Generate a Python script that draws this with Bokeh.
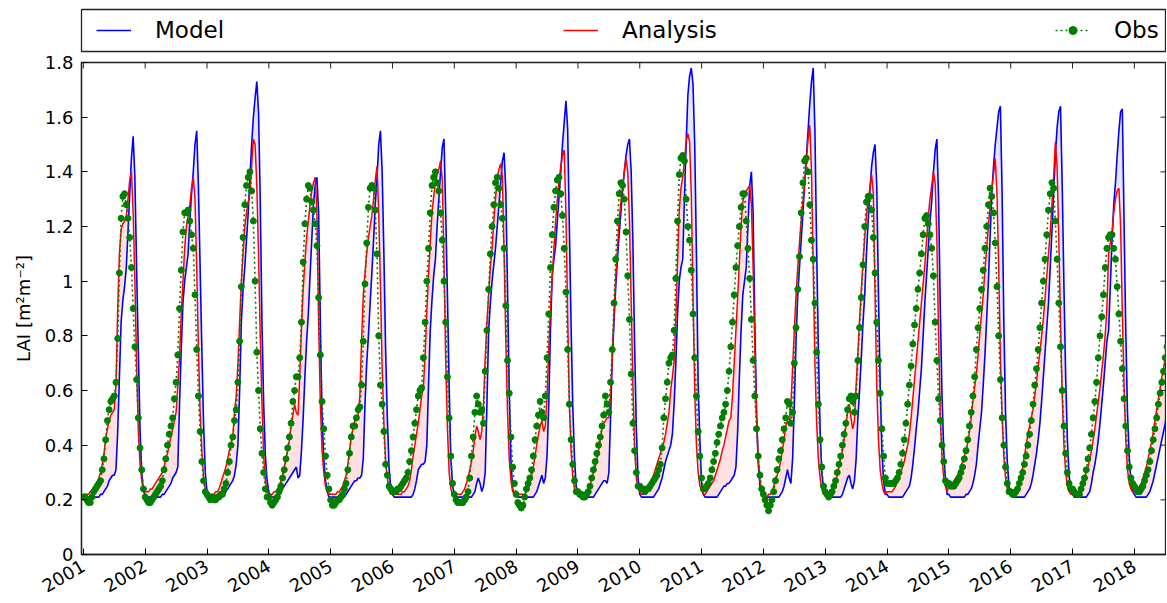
import math
import numpy as np
from bokeh.plotting import figure
from bokeh.models import Range1d, FixedTicker, Legend, LegendItem, NumeralTickFormatter
from bokeh.layouts import column
from bokeh.embed import file_html
from bokeh.resources import INLINE

# ---- data: LAI, one value per dekad (36 per year) starting Jan 2001 ----
START_YEAR = 2001
STEPS_PER_YEAR = 36

model = [
    0.22,0.21,0.21,0.21,0.21,0.21,0.21,0.21,0.21,0.21, 0.22,0.22,0.23,0.24,0.25,0.27,0.28,0.29,0.29,0.31, 0.45,0.65,0.85,0.93,0.98,1.05,1.18,1.32,1.45,1.53, 1.38,1.05,0.75,0.46,0.30,0.23,  # 2001
    0.22,0.21,0.21,0.21,0.21,0.21,0.21,0.21,0.21,0.21, 0.22,0.22,0.23,0.24,0.25,0.26,0.28,0.29,0.30,0.32, 0.55,0.75,0.92,1.00,1.05,1.10,1.22,1.32,1.40,1.50, 1.55,1.35,1.05,0.75,0.48,0.30,  # 2002
    0.23,0.22,0.21,0.21,0.21,0.21,0.21,0.21,0.21,0.22, 0.22,0.23,0.24,0.25,0.26,0.27,0.29,0.33,0.40,0.60, 0.85,0.97,1.05,1.15,1.25,1.38,1.50,1.60,1.67,1.73, 1.62,1.30,0.85,0.55,0.36,0.27,  # 2003
    0.23,0.21,0.21,0.21,0.21,0.22,0.22,0.23,0.24,0.25, 0.26,0.27,0.28,0.29,0.30,0.31,0.32,0.28,0.29,0.38, 0.50,0.65,0.78,0.88,1.02,1.15,1.28,1.35,1.38,1.25, 0.85,0.50,0.35,0.27,0.23,0.21,  # 2004
    0.21,0.21,0.21,0.21,0.21,0.21,0.21,0.21,0.21,0.22, 0.23,0.24,0.25,0.26,0.27,0.27,0.28,0.28,0.29,0.35, 0.55,0.70,0.80,0.92,1.03,1.15,1.28,1.38,1.50,1.55, 1.40,1.10,0.75,0.50,0.32,0.24,  # 2005
    0.22,0.21,0.21,0.21,0.21,0.21,0.21,0.21,0.21,0.21, 0.21,0.21,0.22,0.24,0.27,0.31,0.32,0.33,0.33,0.34, 0.40,0.62,0.82,0.93,1.02,1.08,1.20,1.30,1.40,1.49, 1.52,1.25,0.95,0.62,0.35,0.25,  # 2006
    0.22,0.21,0.21,0.21,0.21,0.21,0.21,0.21,0.21,0.21, 0.21,0.22,0.23,0.26,0.28,0.26,0.23,0.25,0.30,0.55, 0.82,0.92,1.00,1.06,1.12,1.20,1.28,1.36,1.44,1.47, 1.33,0.97,0.60,0.34,0.24,0.22,  # 2007
    0.22,0.21,0.21,0.21,0.21,0.21,0.21,0.21,0.21,0.21, 0.21,0.22,0.23,0.25,0.27,0.29,0.26,0.28,0.36,0.55, 0.82,1.02,1.08,1.13,1.22,1.31,1.40,1.50,1.58,1.66, 1.56,1.20,0.84,0.54,0.35,0.25,  # 2008
    0.23,0.21,0.21,0.21,0.21,0.21,0.21,0.21,0.21,0.21, 0.22,0.23,0.24,0.25,0.26,0.27,0.27,0.26,0.30,0.50, 0.72,0.85,0.98,1.08,1.17,1.25,1.33,1.40,1.46,1.50, 1.52,1.40,1.14,0.77,0.46,0.28,  # 2009
    0.22,0.21,0.21,0.21,0.21,0.21,0.21,0.21,0.21,0.22, 0.23,0.24,0.26,0.28,0.31,0.34,0.36,0.38,0.40,0.44, 0.55,0.70,0.88,1.00,1.05,1.08,1.30,1.50,1.68,1.75, 1.78,1.72,1.50,1.10,0.62,0.42,  # 2010
    0.26,0.22,0.21,0.21,0.21,0.21,0.21,0.21,0.21,0.21, 0.22,0.23,0.24,0.25,0.25,0.26,0.26,0.27,0.28,0.29, 0.32,0.45,0.65,0.82,0.95,1.00,1.05,1.20,1.35,1.40, 1.25,0.85,0.52,0.33,0.25,0.22,  # 2011
    0.22,0.21,0.21,0.21,0.21,0.21,0.21,0.21,0.21,0.21, 0.22,0.23,0.25,0.28,0.31,0.28,0.26,0.35,0.55,0.78, 0.95,1.05,1.15,1.25,1.35,1.45,1.55,1.65,1.73,1.78, 1.55,1.12,0.75,0.46,0.30,0.24,  # 2012
    0.22,0.21,0.21,0.21,0.21,0.21,0.21,0.21,0.21,0.21, 0.22,0.24,0.26,0.28,0.29,0.26,0.24,0.27,0.35,0.50, 0.60,0.72,0.85,0.95,1.10,1.22,1.33,1.42,1.47,1.50, 1.35,0.95,0.62,0.38,0.27,0.22,  # 2013
    0.22,0.21,0.21,0.21,0.21,0.21,0.21,0.21,0.21,0.21, 0.22,0.23,0.24,0.25,0.28,0.33,0.39,0.46,0.52,0.60, 0.68,0.80,0.92,1.02,1.12,1.22,1.29,1.40,1.48,1.52, 1.30,0.90,0.58,0.38,0.27,0.22,  # 2014
    0.22,0.21,0.21,0.21,0.21,0.21,0.21,0.21,0.21,0.21, 0.22,0.22,0.23,0.24,0.26,0.29,0.33,0.40,0.46,0.52, 0.62,0.73,0.86,1.00,1.16,1.32,1.42,1.50,1.56,1.62, 1.64,1.32,0.85,0.52,0.34,0.25,  # 2015
    0.23,0.21,0.21,0.21,0.21,0.21,0.21,0.21,0.21,0.22, 0.23,0.24,0.26,0.29,0.33,0.37,0.42,0.48,0.56,0.65, 0.74,0.83,0.92,1.05,1.18,1.32,1.46,1.56,1.62,1.64, 1.35,0.98,0.65,0.42,0.29,0.23,  # 2016
    0.22,0.21,0.21,0.21,0.21,0.21,0.21,0.21,0.21,0.22, 0.23,0.26,0.30,0.33,0.37,0.42,0.48,0.55,0.62,0.70, 0.78,0.82,0.98,1.15,1.28,1.36,1.46,1.55,1.62,1.63, 1.22,0.82,0.52,0.36,0.27,0.23,  # 2017
    0.22,0.21,0.21,0.21,0.21,0.21,0.21,0.21,0.22,0.23, 0.25,0.27,0.30,0.33,0.36,0.39,0.42,0.45,0.48,0.52,  # 2018
]

analysis = [
    0.22,0.22,0.22,0.22,0.23,0.23,0.24,0.25,0.26,0.28, 0.30,0.33,0.37,0.42,0.46,0.49,0.51,0.52,0.53,0.62, 0.90,1.10,1.19,1.21,1.22,1.24,1.30,1.37,1.40,1.25, 1.00,0.70,0.45,0.33,0.27,0.23,  # 2001
    0.23,0.23,0.23,0.24,0.24,0.25,0.26,0.27,0.28,0.29, 0.30,0.32,0.35,0.37,0.40,0.43,0.46,0.49,0.52,0.62, 0.72,0.88,1.00,1.12,1.20,1.24,1.28,1.34,1.38,1.30, 1.05,0.75,0.52,0.38,0.28,0.24,  # 2002
    0.23,0.22,0.22,0.22,0.22,0.23,0.23,0.24,0.26,0.28, 0.30,0.32,0.35,0.38,0.41,0.43,0.52,0.58,0.70,0.85, 1.00,1.10,1.20,1.25,1.29,1.32,1.42,1.52,1.50,1.35, 1.10,0.80,0.55,0.36,0.27,0.23,  # 2003
    0.22,0.22,0.22,0.23,0.23,0.24,0.25,0.27,0.29,0.32, 0.35,0.38,0.42,0.47,0.51,0.55,0.52,0.51,0.65,0.83, 0.97,1.07,1.16,1.22,1.28,1.33,1.36,1.38,1.25,0.85, 0.55,0.38,0.30,0.25,0.23,0.22,  # 2004
    0.22,0.22,0.22,0.22,0.23,0.23,0.24,0.25,0.27,0.29, 0.33,0.38,0.43,0.46,0.49,0.50,0.51,0.58,0.78,0.95, 1.03,1.10,1.16,1.20,1.24,1.30,1.37,1.42,1.25,0.98, 0.68,0.48,0.34,0.28,0.24,0.22,  # 2005
    0.22,0.22,0.22,0.22,0.22,0.22,0.23,0.23,0.24,0.25, 0.27,0.31,0.36,0.40,0.44,0.48,0.53,0.58,0.61,0.73, 0.89,1.02,1.14,1.25,1.31,1.36,1.39,1.41,1.44,1.37, 1.07,0.71,0.46,0.30,0.24,0.22,  # 2006
    0.22,0.22,0.22,0.22,0.22,0.23,0.24,0.26,0.28,0.31, 0.34,0.38,0.43,0.47,0.45,0.42,0.45,0.55,0.72,0.85, 0.95,1.05,1.12,1.22,1.30,1.38,1.41,1.43,1.38,1.10, 0.78,0.52,0.35,0.27,0.23,0.22,  # 2007
    0.22,0.22,0.22,0.22,0.22,0.22,0.23,0.24,0.26,0.29, 0.32,0.36,0.40,0.44,0.47,0.49,0.45,0.47,0.58,0.75, 0.90,1.01,1.12,1.22,1.30,1.37,1.42,1.46,1.48,1.25, 0.88,0.55,0.38,0.28,0.24,0.22,  # 2008
    0.23,0.22,0.22,0.22,0.22,0.23,0.23,0.25,0.28,0.30, 0.32,0.35,0.38,0.42,0.46,0.48,0.49,0.50,0.50,0.59, 0.72,0.88,1.01,1.12,1.22,1.29,1.35,1.40,1.45,1.40, 1.22,0.92,0.62,0.40,0.28,0.24,  # 2009
    0.23,0.22,0.22,0.22,0.23,0.24,0.25,0.27,0.29,0.31, 0.33,0.35,0.37,0.39,0.41,0.44,0.48,0.52,0.60,0.65, 0.71,0.86,1.07,1.26,1.34,1.38,1.44,1.51,1.54,1.51, 1.32,0.95,0.60,0.40,0.30,0.25,  # 2010
    0.24,0.22,0.22,0.23,0.24,0.25,0.26,0.27,0.29,0.31, 0.33,0.35,0.38,0.40,0.43,0.46,0.49,0.50,0.58,0.70, 0.82,0.94,1.07,1.20,1.29,1.32,1.33,1.34,1.35,1.28, 1.05,0.75,0.50,0.35,0.27,0.23,  # 2011
    0.22,0.21,0.21,0.22,0.22,0.23,0.25,0.27,0.29,0.31, 0.34,0.38,0.42,0.47,0.49,0.47,0.55,0.68,0.82,0.95, 1.05,1.14,1.22,1.29,1.36,1.44,1.52,1.57,1.40,1.05, 0.70,0.48,0.35,0.28,0.24,0.22,  # 2012
    0.22,0.21,0.21,0.22,0.23,0.25,0.27,0.29,0.32,0.35, 0.38,0.42,0.47,0.52,0.55,0.50,0.46,0.49,0.62,0.74, 0.86,0.97,1.07,1.16,1.24,1.30,1.34,1.39,1.32,0.95, 0.62,0.42,0.31,0.26,0.23,0.22,  # 2013
    0.23,0.23,0.23,0.23,0.24,0.25,0.27,0.28,0.30,0.32, 0.34,0.37,0.40,0.44,0.50,0.57,0.64,0.71,0.78,0.85, 0.92,0.99,1.06,1.15,1.24,1.30,1.35,1.40,1.36,1.15, 0.80,0.50,0.35,0.28,0.25,0.23,  # 2014
    0.25,0.25,0.26,0.27,0.28,0.29,0.30,0.32,0.34,0.36, 0.38,0.41,0.45,0.50,0.56,0.61,0.66,0.73,0.81,0.88, 0.95,1.04,1.12,1.20,1.28,1.34,1.39,1.45,1.32,1.05, 0.72,0.50,0.36,0.28,0.24,0.23,  # 2015
    0.23,0.23,0.23,0.24,0.25,0.27,0.29,0.32,0.36,0.40, 0.44,0.47,0.50,0.53,0.58,0.63,0.69,0.74,0.80,0.86, 0.94,1.02,1.10,1.18,1.28,1.38,1.51,1.42,1.15,0.85, 0.58,0.40,0.30,0.25,0.23,0.22,  # 2016
    0.22,0.22,0.22,0.22,0.23,0.24,0.26,0.28,0.30,0.32, 0.35,0.38,0.42,0.46,0.51,0.56,0.61,0.67,0.73,0.80, 0.90,1.10,1.14,1.18,1.25,1.30,1.33,1.34,1.20,0.88, 0.62,0.42,0.31,0.26,0.24,0.23,  # 2017
    0.23,0.23,0.24,0.25,0.26,0.28,0.30,0.32,0.35,0.38, 0.41,0.45,0.49,0.53,0.57,0.61,0.65,0.68,0.72,0.76,  # 2018
]

obs = [
    0.21,0.21,0.20,0.19,0.19,0.21,0.23,0.24,0.25,0.26, 0.27,0.31,0.35,0.42,0.49,0.53,0.56,0.57,0.58,0.63, 0.79,1.03,1.23,1.31,1.32,1.28,1.23,1.16,1.05,0.90, 0.76,0.64,0.50,0.39,0.31,0.24,  # 2001
    0.21,0.20,0.19,0.19,0.20,0.21,0.22,0.23,0.24,0.25, 0.27,0.31,0.35,0.40,0.44,0.47,0.50,0.57,0.63,0.73, 0.90,1.04,1.18,1.25,1.25,1.26,1.22,1.17,1.12,0.95, 0.75,0.58,0.45,0.34,0.27,0.23,  # 2002
    0.22,0.21,0.20,0.21,0.20,0.20,0.21,0.21,0.22,0.22, 0.24,0.26,0.30,0.34,0.40,0.43,0.49,0.53,0.63,0.78, 0.98,1.16,1.28,1.35,1.38,1.40,1.33,1.22,1.00,0.74, 0.60,0.46,0.37,0.30,0.24,0.21,  # 2003
    0.21,0.19,0.18,0.19,0.20,0.21,0.23,0.25,0.28,0.31, 0.35,0.39,0.43,0.48,0.56,0.60,0.65,0.65,0.72,0.85, 1.07,1.21,1.30,1.35,1.34,1.29,1.26,1.21,1.13,0.94, 0.73,0.56,0.46,0.36,0.29,0.24,  # 2004
    0.20,0.18,0.18,0.19,0.20,0.20,0.21,0.22,0.24,0.26, 0.31,0.37,0.43,0.47,0.47,0.50,0.53,0.54,0.62,0.78, 0.99,1.14,1.27,1.34,1.35,1.34,1.26,1.10,0.80,0.62, 0.55,0.45,0.33,0.29,0.25,0.24,  # 2005
    0.23,0.23,0.23,0.24,0.24,0.25,0.26,0.27,0.28,0.30, 0.34,0.38,0.43,0.48,0.53,0.58,0.60,0.61,0.72,0.85, 1.00,1.12,1.25,1.35,1.38,1.40,1.36,1.33,1.25,1.15, 1.00,0.85,0.65,0.50,0.36,0.26,  # 2006
    0.22,0.20,0.19,0.19,0.19,0.19,0.20,0.21,0.23,0.28, 0.36,0.43,0.52,0.58,0.55,0.52,0.53,0.48,0.67,0.82, 0.97,1.10,1.20,1.28,1.36,1.38,1.34,1.28,1.23,1.12, 0.91,0.71,0.59,0.43,0.32,0.26,  # 2007
    0.22,0.19,0.18,0.17,0.18,0.21,0.24,0.26,0.28,0.31, 0.36,0.42,0.47,0.51,0.56,0.52,0.50,0.58,0.72,0.88, 1.05,1.17,1.27,1.33,1.37,1.38,1.32,1.24,1.12,0.96, 0.75,0.55,0.42,0.33,0.27,0.23,  # 2008
    0.23,0.22,0.22,0.21,0.21,0.22,0.23,0.25,0.28,0.31, 0.34,0.37,0.40,0.43,0.47,0.51,0.58,0.55,0.52,0.63, 0.75,0.92,1.08,1.22,1.32,1.36,1.35,1.30,1.18,1.02, 0.86,0.66,0.48,0.38,0.30,0.25,  # 2009
    0.25,0.24,0.24,0.23,0.24,0.24,0.25,0.26,0.27,0.28, 0.29,0.31,0.33,0.39,0.50,0.57,0.63,0.70,0.72,0.73, 0.82,1.01,1.22,1.39,1.45,1.46,1.44,1.30,1.20,1.15, 1.04,0.88,0.72,0.58,0.45,0.36,  # 2010
    0.28,0.24,0.24,0.25,0.26,0.28,0.31,0.34,0.37,0.41, 0.44,0.47,0.50,0.52,0.55,0.60,0.67,0.76,0.85,0.95, 1.05,1.13,1.20,1.27,1.32,1.32,1.22,1.12,1.01,0.86, 0.71,0.58,0.46,0.36,0.29,0.24,  # 2011
    0.22,0.20,0.18,0.16,0.18,0.20,0.23,0.27,0.31,0.35, 0.38,0.42,0.46,0.50,0.56,0.55,0.48,0.52,0.70,0.83, 0.97,1.09,1.25,1.36,1.44,1.45,1.40,1.28,1.15,1.08, 0.92,0.74,0.55,0.42,0.32,0.25,  # 2012
    0.23,0.22,0.21,0.22,0.23,0.25,0.27,0.30,0.33,0.36, 0.40,0.44,0.48,0.53,0.57,0.58,0.56,0.52,0.58,0.71, 0.83,0.94,1.06,1.20,1.29,1.31,1.31,1.26,1.16,1.03, 0.85,0.71,0.59,0.46,0.36,0.28,  # 2013
    0.26,0.26,0.26,0.26,0.26,0.27,0.28,0.30,0.33,0.37, 0.42,0.48,0.55,0.62,0.69,0.77,0.84,0.90,0.97,1.03, 1.10,1.17,1.23,1.24,1.21,1.17,1.12,1.02,0.85,0.71, 0.57,0.49,0.40,0.34,0.27,0.26,  # 2014
    0.26,0.25,0.25,0.25,0.26,0.27,0.28,0.30,0.32,0.35, 0.38,0.42,0.47,0.52,0.58,0.65,0.75,0.83,0.90,0.97, 1.04,1.12,1.20,1.28,1.34,1.31,1.25,1.14,0.98,0.80, 0.64,0.50,0.40,0.32,0.26,0.23,  # 2015
    0.23,0.22,0.22,0.23,0.24,0.26,0.28,0.30,0.33,0.36, 0.40,0.44,0.49,0.55,0.62,0.68,0.75,0.83,0.92,1.00, 1.08,1.17,1.26,1.32,1.36,1.34,1.22,1.08,0.92,0.76, 0.60,0.47,0.37,0.30,0.26,0.24,  # 2016
    0.24,0.23,0.22,0.22,0.22,0.24,0.26,0.28,0.31,0.35, 0.39,0.44,0.50,0.56,0.63,0.72,0.80,0.87,0.95,1.05, 1.12,1.16,1.17,1.17,1.12,1.08,0.98,0.88,0.78,0.68, 0.57,0.47,0.38,0.32,0.28,0.26,  # 2017
    0.25,0.24,0.23,0.23,0.24,0.25,0.27,0.29,0.31,0.34, 0.38,0.42,0.46,0.50,0.55,0.59,0.63,0.67,0.72,0.76,  # 2018
]

year_ticks = list(range(2001, 2019))
lai_ticks = [0, 0.2, 0.4, 0.6, 0.8, 1.0, 1.2, 1.4, 1.6, 1.8]
series_labels = ["Model", "Analysis", "Obs"]

# ---- styling ----
FONT = "DejaVu Sans"
BLUE = "#0000ff"
RED = "#ff0000"
GREEN = "#008000"
FRAME = "#222222"
X_START, X_END = 2000.97, 2018.52
Y_START, Y_END = 0.0, 1.8
OVERLAP = 12  # main canvas slides up under the legend strip (transparent border)


def times(n):
    return START_YEAR + np.arange(n) / STEPS_PER_YEAR


p = figure(width=1166, height=548 + OVERLAP,
           x_range=Range1d(X_START, X_END), y_range=Range1d(Y_START, Y_END),
           output_backend="svg", toolbar_location=None,
           min_border_left=81, min_border_right=0, min_border_top=8 + OVERLAP,
           min_border_bottom=48)
p.margin = (-OVERLAP, 0, 0, 0)
p.border_fill_alpha = 0
p.grid.visible = False
p.outline_line_color = FRAME
p.outline_line_width = 1.3
p.background_fill_color = "white"

n = min(len(model), len(analysis))
m_arr = np.array(model[:n])
a_arr = np.array(analysis[:n])
t_ma = times(n)
upper = np.maximum(m_arr, a_arr)
p.varea(x=t_ma, y1=m_arr, y2=upper, fill_color=RED, fill_alpha=0.12)
p.varea(x=t_ma, y1=a_arr, y2=upper, fill_color=BLUE, fill_alpha=0.10)

p.line(times(len(model)), model, line_color=BLUE, line_width=1.6)
p.line(times(len(analysis)), analysis, line_color=RED, line_width=1.5)
p.line(times(len(obs)), obs, line_color=GREEN, line_width=1.6, line_dash="2 3")
p.scatter(times(len(obs)), obs, size=6, fill_color=GREEN, line_color=GREEN)

# inward tick marks on the top and right frame edges
p.scatter(x=year_ticks, y=[Y_END] * len(year_ticks), marker="dash", angle=math.pi / 2,
          size=12, line_color=FRAME, line_width=1)
p.scatter(x=[X_END] * len(lai_ticks), y=lai_ticks, marker="dash",
          size=12, line_color=FRAME, line_width=1)

xa = p.xaxis[0]
xa.ticker = FixedTicker(ticks=year_ticks)
xa.major_label_orientation = math.pi / 6
xa.major_tick_in = 6
xa.major_tick_out = 0
xa.minor_tick_line_color = None
xa.major_label_text_font = FONT
xa.major_label_text_font_size = "18px"
xa.major_label_text_color = "black"
xa.major_label_standoff = 10
xa.axis_line_color = FRAME
xa.axis_line_width = 1.3

ya = p.yaxis[0]
ya.ticker = FixedTicker(ticks=lai_ticks)
ya.formatter = NumeralTickFormatter(format="0.[0]")
ya.major_tick_in = 6
ya.major_tick_out = 0
ya.minor_tick_line_color = None
ya.major_label_text_font = FONT
ya.major_label_text_font_size = "18px"
ya.major_label_text_color = "black"
ya.major_label_standoff = 8
ya.axis_line_color = FRAME
ya.axis_line_width = 1.3
ya.axis_label = "LAI [m\u00b2m\u207b\u00b2]"
ya.axis_label_text_font = FONT
ya.axis_label_text_font_size = "18px"
ya.axis_label_text_font_style = "normal"
ya.axis_label_text_color = "black"
ya.axis_label_standoff = 8

# ---- legend strip above the plot ----
leg = figure(width=1166, height=54, x_range=Range1d(0, 1), y_range=Range1d(0, 1),
             output_backend="svg", toolbar_location=None,
             min_border_left=81, min_border_right=0, min_border_top=9, min_border_bottom=3)
leg.axis.visible = False
leg.grid.visible = False
leg.outline_line_color = FRAME
leg.outline_line_width = 1.3

nan = [float("nan")]
lm = leg.line(x=nan, y=nan, line_color=BLUE, line_width=1.6)
la = leg.line(x=nan, y=nan, line_color=RED, line_width=1.5)
lo = leg.line(x=nan, y=nan, line_color=GREEN, line_width=1.6, line_dash="2 3")
lp = leg.scatter(x=nan, y=nan, size=6, fill_color=GREEN, line_color=GREEN)

for label, rends, xloc in [(series_labels[0], [lm], 15),
                           (series_labels[1], [la], 482),
                           (series_labels[2], [lo, lp], 974)]:
    lg = Legend(items=[LegendItem(label=label, renderers=rends)], location=(xloc, 8),
                padding=0, margin=0, border_line_color=None, background_fill_alpha=0,
                glyph_width=35, glyph_height=20, label_standoff=24,
                label_text_font=FONT, label_text_font_size="23px", label_text_color="black")
    leg.add_layout(lg)

layout = column(leg, p)
open("out.html", "w").write(file_html(layout, INLINE))
